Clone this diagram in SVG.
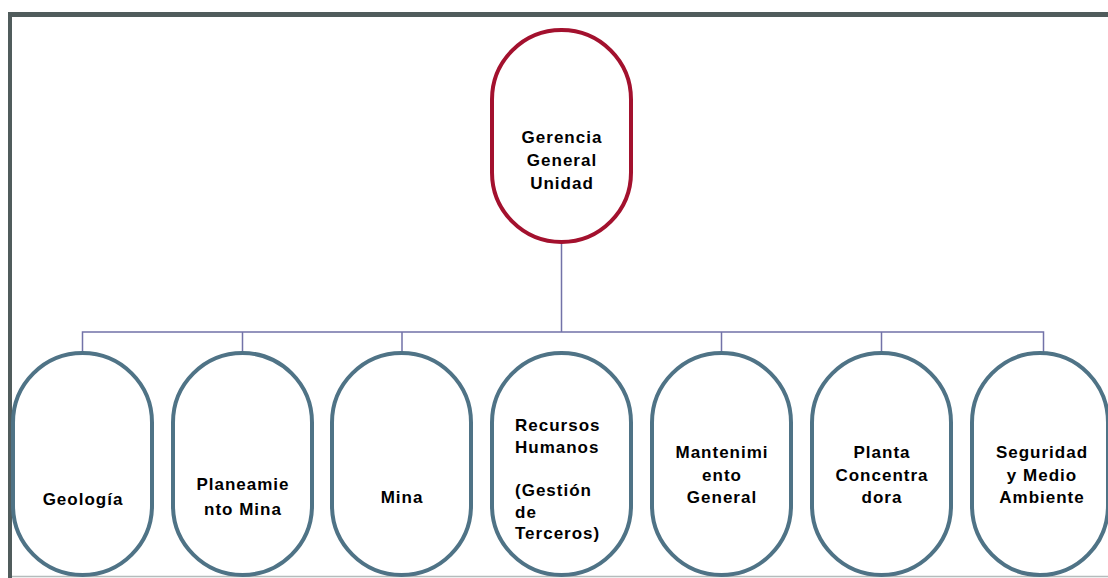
<svg xmlns="http://www.w3.org/2000/svg" width="1108" height="578" viewBox="0 0 1108 578">
<style>
.top{fill:#ffffff;stroke:#a3112e;stroke-width:4}
.unit{fill:#ffffff;stroke:#4f7386;stroke-width:4}
.conn{fill:none;stroke:#7272a8;stroke-width:1.5}
text{font-family:"Liberation Sans",Arial,sans-serif;font-weight:bold;font-size:17px;letter-spacing:1px;fill:#000000}
.c{text-anchor:middle}
</style>
<rect x="0" y="0" width="1108" height="578" fill="#ffffff"/>
<g id="frame">
<rect x="8" y="12" width="1100" height="5" fill="#505c5c"/>
<rect x="8" y="12" width="4" height="566" fill="#505c5c"/>
<line x1="12" y1="576.5" x2="1108" y2="576.5" stroke="#b4bcbc" stroke-width="1.5"/>
</g>
<g id="connectors">
<path class="conn" d="M561.5 243 V332 M82.5 352 V332 H1043.5 V352 M242.5 332 V352 M402 332 V352 M721.5 332 V352 M881.5 332 V352"/>
</g>
<g id="gerencia">
<rect class="top" x="492" y="30" width="139" height="212" rx="69.5" ry="69.5"/>
<text class="c" x="562" y="143">Gerencia</text>
<text class="c" x="562" y="166">General</text>
<text class="c" x="562" y="189">Unidad</text>
</g>
<g id="geologia">
<rect class="unit" x="13" y="353" width="139" height="222" rx="69.5" ry="69.5"/>
<text class="c" x="83" y="505">Geología</text>
</g>
<g id="planeamiento">
<rect class="unit" x="173" y="353" width="139" height="222" rx="69.5" ry="69.5"/>
<text class="c" x="243" y="490">Planeamie</text>
<text class="c" x="243" y="515">nto Mina</text>
</g>
<g id="mina">
<rect class="unit" x="332" y="353" width="139" height="222" rx="69.5" ry="69.5"/>
<text class="c" x="402" y="503">Mina</text>
</g>
<g id="rrhh">
<rect class="unit" x="492" y="353" width="139" height="222" rx="69.5" ry="69.5"/>
<text x="515" y="431">Recursos</text>
<text x="515" y="453">Humanos</text>
<text x="515" y="496">(Gestión</text>
<text x="515" y="518">de</text>
<text x="515" y="539">Terceros)</text>
</g>
<g id="mantenimiento">
<rect class="unit" x="652" y="353" width="139" height="222" rx="69.5" ry="69.5"/>
<text class="c" x="722" y="458">Mantenimi</text>
<text class="c" x="722" y="481">ento</text>
<text class="c" x="722" y="503">General</text>
</g>
<g id="planta">
<rect class="unit" x="812" y="353" width="139" height="222" rx="69.5" ry="69.5"/>
<text class="c" x="882" y="458">Planta</text>
<text class="c" x="882" y="481">Concentra</text>
<text class="c" x="882" y="503">dora</text>
</g>
<g id="seguridad">
<rect class="unit" x="972" y="353" width="136" height="222" rx="68" ry="69.5"/>
<text class="c" x="1042" y="458">Seguridad</text>
<text class="c" x="1042" y="481">y Medio</text>
<text class="c" x="1042" y="503">Ambiente</text>
</g>
</svg>
